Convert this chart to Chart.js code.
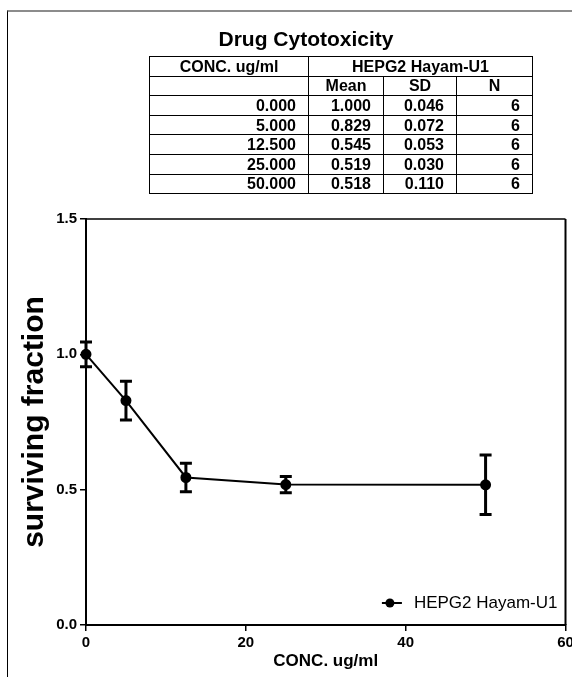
<!DOCTYPE html>
<html>
<head>
<meta charset="utf-8">
<script src="https://cdn.jsdelivr.net/npm/chart.js@4/dist/chart.umd.min.js"></script>
<style>
  body { margin: 0; width: 572px; height: 677px; overflow: hidden; position: relative; background: #fff;
         font-family: "Liberation Sans", Arial, sans-serif; }
  #frame { position: absolute; left: 7px; top: 10px; width: 600px; height: 700px;
           border-top: 2px solid #8c8c8c; border-left: 1.5px solid #000; }
  #chart { position: absolute; left: 0; top: 0; }
  #tableTitle { position: absolute; left: 156px; top: 27px; width: 300px; text-align: center;
                font-weight: bold; font-size: 21px; line-height: 24px; color: #000; }
  #dataTable { position: absolute; left: 149px; top: 56px; border-collapse: collapse; table-layout: fixed;
               font-weight: bold; font-size: 16px; color: #000; }
  #dataTable td { border: 1.5px solid #000; padding: 0 12px 0 0; height: 18.6px; line-height: 17px; text-align: right; }
  #dataTable td.c { text-align: center; padding: 0; }
</style>
</head>
<body>
<div id="frame"></div>
<canvas id="chart" width="572" height="677"></canvas>
<div id="tableTitle">Drug Cytotoxicity</div>
<table id="dataTable">
  <colgroup><col style="width:159px"><col style="width:75px"><col style="width:73px"><col style="width:76px"></colgroup>
  <tbody id="tableBody"></tbody>
</table>
<script>
// data read from the GraphPad output
const concentrations = [0, 5, 12.5, 25, 50];
const meanValues = [1.000, 0.829, 0.545, 0.519, 0.518];
const sdValues = [0.046, 0.072, 0.053, 0.030, 0.110];
const nValues = [6, 6, 6, 6, 6];
const seriesName = "HEPG2 Hayam-U1";
const xTicks = [0, 20, 40, 60];
const yTicks = [0.0, 0.5, 1.0, 1.5];

const FONT = '"Liberation Sans", Arial, sans-serif';

// table above the graph
const tbody = document.getElementById("tableBody");
let html = '<tr><td class="c">CONC. ug/ml</td><td class="c" colspan="3">' + seriesName + '</td></tr>';
html += '<tr><td class="c"></td><td class="c">Mean</td><td class="c">SD</td><td class="c">N</td></tr>';
concentrations.forEach((c, i) => {
    html += '<tr><td>' + c.toFixed(3) + '</td><td>' + meanValues[i].toFixed(3) + '</td><td>' +
        sdValues[i].toFixed(3) + '</td><td>' + nValues[i] + '</td></tr>';
});
tbody.innerHTML = html;

const errorBars = {
    id: "errorBars",
    afterDatasetsDraw(chart) {
        const ctx = chart.ctx;
        const xs = chart.scales.x;
        const ys = chart.scales.y;
        ctx.save();
        ctx.strokeStyle = "#000";
        ctx.lineWidth = 3;
        concentrations.forEach((c, i) => {
            const x = xs.getPixelForValue(c);
            const top = ys.getPixelForValue(meanValues[i] + sdValues[i]);
            const bot = ys.getPixelForValue(meanValues[i] - sdValues[i]);
            ctx.beginPath();
            ctx.moveTo(x, top); ctx.lineTo(x, bot);
            ctx.moveTo(x - 6, top); ctx.lineTo(x + 6, top);
            ctx.moveTo(x - 6, bot); ctx.lineTo(x + 6, bot);
            ctx.stroke();
        });
        ctx.restore();
    }
};

const frameAndLegend = {
    id: "frameAndLegend",
    afterDraw(chart) {
        const ctx = chart.ctx;
        const a = chart.chartArea;
        ctx.save();
        ctx.strokeStyle = "#000";
        ctx.lineWidth = 1.5;
        ctx.beginPath();
        ctx.moveTo(a.left, a.top); ctx.lineTo(a.right, a.top);
        ctx.stroke();
        ctx.lineWidth = 2;
        ctx.beginPath();
        ctx.moveTo(a.right, a.top); ctx.lineTo(a.right, a.bottom);
        ctx.stroke();

        // legend in the lower right corner
        ctx.font = "17px " + FONT;
        ctx.fillStyle = "#000";
        ctx.textBaseline = "middle";
        ctx.textAlign = "right";
        const ly = a.bottom - 22;
        const tx = a.right - 8;
        ctx.fillText(seriesName, tx, ly);
        const left = tx - ctx.measureText(seriesName).width;
        ctx.lineWidth = 2;
        ctx.beginPath();
        ctx.moveTo(left - 32, ly); ctx.lineTo(left - 12, ly);
        ctx.stroke();
        ctx.beginPath();
        ctx.arc(left - 24, ly, 4.5, 0, Math.PI * 2);
        ctx.fill();
        ctx.restore();
    }
};

new Chart(document.getElementById("chart"), {
    type: "scatter",
    data: {
        datasets: [{
            label: seriesName,
            data: concentrations.map((c, i) => ({ x: c, y: meanValues[i] })),
            showLine: true,
            borderColor: "#000",
            backgroundColor: "#000",
            borderWidth: 2,
            pointRadius: 4.5,
            pointHoverRadius: 4.5,
            clip: false
        }]
    },
    options: {
        responsive: false,
        animation: false,
        events: [],
        layout: { padding: { top: 219, right: 4, bottom: 0, left: 0 } },
        plugins: { legend: { display: false }, tooltip: { enabled: false } },
        scales: {
            x: {
                type: "linear",
                min: 0,
                max: 60,
                afterBuildTicks: s => { s.ticks = xTicks.map(v => ({ value: v })); },
                afterFit: s => { s.height = 52; s.paddingLeft = 0; s.paddingRight = 0; },
                grid: { drawOnChartArea: false, drawTicks: true, tickLength: 6, color: "#000", lineWidth: 1.5 },
                border: { display: true, color: "#000", width: 2 },
                ticks: {
                    padding: 3,
                    maxRotation: 0,
                    color: "#000",
                    font: { family: FONT, size: 15, weight: "bold" },
                    callback: v => String(v)
                },
                title: {
                    display: true,
                    text: "CONC. ug/ml",
                    color: "#000",
                    font: { family: FONT, size: 17, weight: "bold" },
                    padding: { top: 0, bottom: 5 }
                }
            },
            y: {
                type: "linear",
                min: 0,
                max: 1.5,
                afterBuildTicks: s => { s.ticks = yTicks.map(v => ({ value: v })); },
                afterFit: s => { s.width = 86; s.paddingTop = 0; s.paddingBottom = 0; },
                grid: { drawOnChartArea: false, drawTicks: true, tickLength: 6, color: "#000", lineWidth: 1.5 },
                border: { display: true, color: "#000", width: 2 },
                ticks: {
                    padding: 3,
                    color: "#000",
                    font: { family: FONT, size: 15, weight: "bold" },
                    callback: v => Number(v).toFixed(1)
                },
                title: {
                    display: true,
                    text: "surviving fraction",
                    color: "#000",
                    font: { family: FONT, size: 30, weight: "bold" },
                    padding: { top: 17, bottom: 0 }
                }
            }
        }
    },
    plugins: [errorBars, frameAndLegend]
});
</script>
</body>
</html>
